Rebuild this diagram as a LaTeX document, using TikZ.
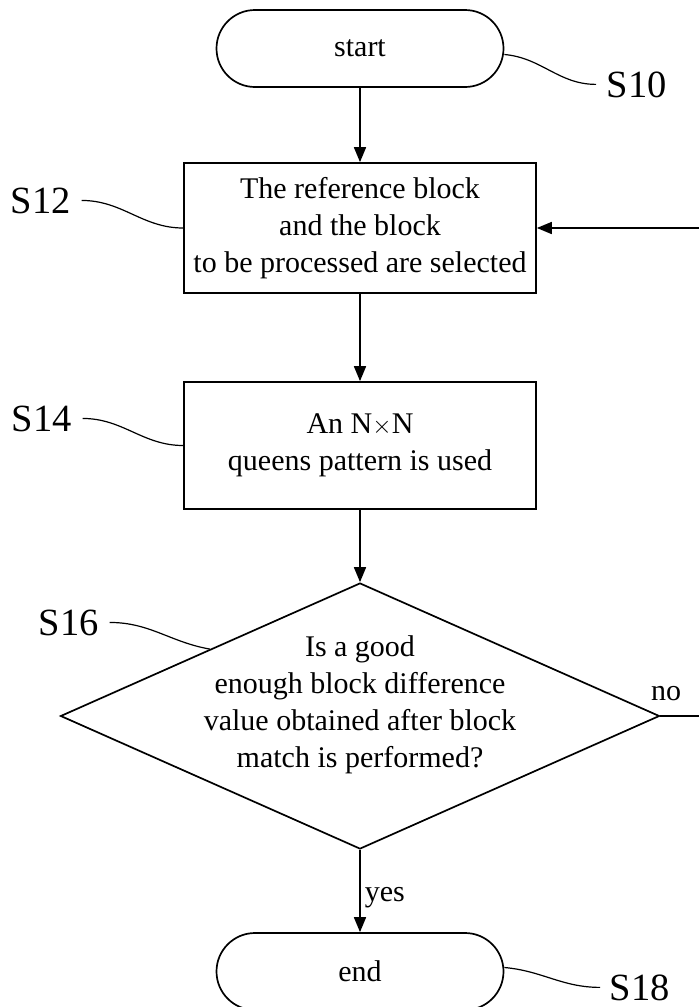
\documentclass[tikz,border=0pt]{standalone}
\usepackage{fontspec}
\setmainfont{Liberation Serif}
\usetikzlibrary{shapes.geometric,shapes.misc,arrows.meta,calc}
\begin{document}
\begin{tikzpicture}[x=1pt,y=-1pt,
  line width=1.7pt,
  txt/.style={font=\fontsize{30}{37}\selectfont},
  lbl/.style={font=\fontsize{38.5}{46}\selectfont, inner sep=0pt},
  term/.style={rounded rectangle, draw, minimum width=287pt, minimum height=77pt, inner sep=0pt, txt},
  proc/.style={rectangle, draw, minimum width=352pt, inner sep=0pt, align=center, txt},
  decision/.style={diamond, draw, minimum width=599pt, minimum height=266pt, inner sep=0pt},
  arr/.style={-{Triangle[length=15pt,width=12pt]}},
  lead/.style={line width=1.2pt}]
\useasboundingbox (0,0) rectangle (699,1007);
\clip (0,0) rectangle (699,1007);

\node[term] (start) at (360,48.5) {start};
\node[proc, minimum height=130pt] (s12) at (360,228)
  {The reference block\\and the block\\to be processed are selected};
\node[proc, minimum height=127pt] (s14) at (360,445.5)
  {An N$\times$N\\queens pattern is used};
\node[decision] (dia) at (360,716) {};
\node[txt, align=center, inner sep=0pt] (diatext) at (360,705)
  {Is a good\\enough block difference\\value obtained after block\\match is performed?};
\node[term] (end) at (360,971.5) {end};

\node[lbl, anchor=base west] (L10) at (606,97) {S10};
\node[lbl, anchor=base west] (L12) at (10,213) {S12};
\node[lbl, anchor=base west] (L14) at (11,431) {S14};
\node[lbl, anchor=base west] (L16) at (38,635) {S16};
\node[lbl, anchor=base west] (L18) at (609,1000) {S18};

\draw[arr] (start) -- (s12);
\draw[arr] (s12) -- (s14);
\draw[arr] (s14) -- (dia.north);
\draw[arr] (dia.south) -- node[txt, anchor=west, pos=0.58, inner sep=4pt] {yes} (end.north);
\draw[arr] (dia.east) -- ++(60,0) coordinate (fb) |- (s12.east);
\node[txt, anchor=base west, inner sep=0pt] (no) at ([xshift=-10pt,yshift=16pt]dia.east) {no};

\coordinate (d16) at ($(dia.west)!0.5!(dia.north)$);
\draw[lead] ([yshift=-6pt]start.east) to[out=-5,in=180] ([xshift=-10pt]L10.west);
\draw[lead] ([xshift=10pt]L12.east) to[out=0,in=180] (s12.west);
\draw[lead] ([xshift=10pt]L14.east) to[out=0,in=180] (s14.west);
\draw[lead] ([xshift=10pt]L16.east) to[out=0,in=170] (d16);
\draw[lead] ([yshift=4pt]end.east) to[out=-5,in=180] ([xshift=-9pt]L18.west);
\end{tikzpicture}
\end{document}
